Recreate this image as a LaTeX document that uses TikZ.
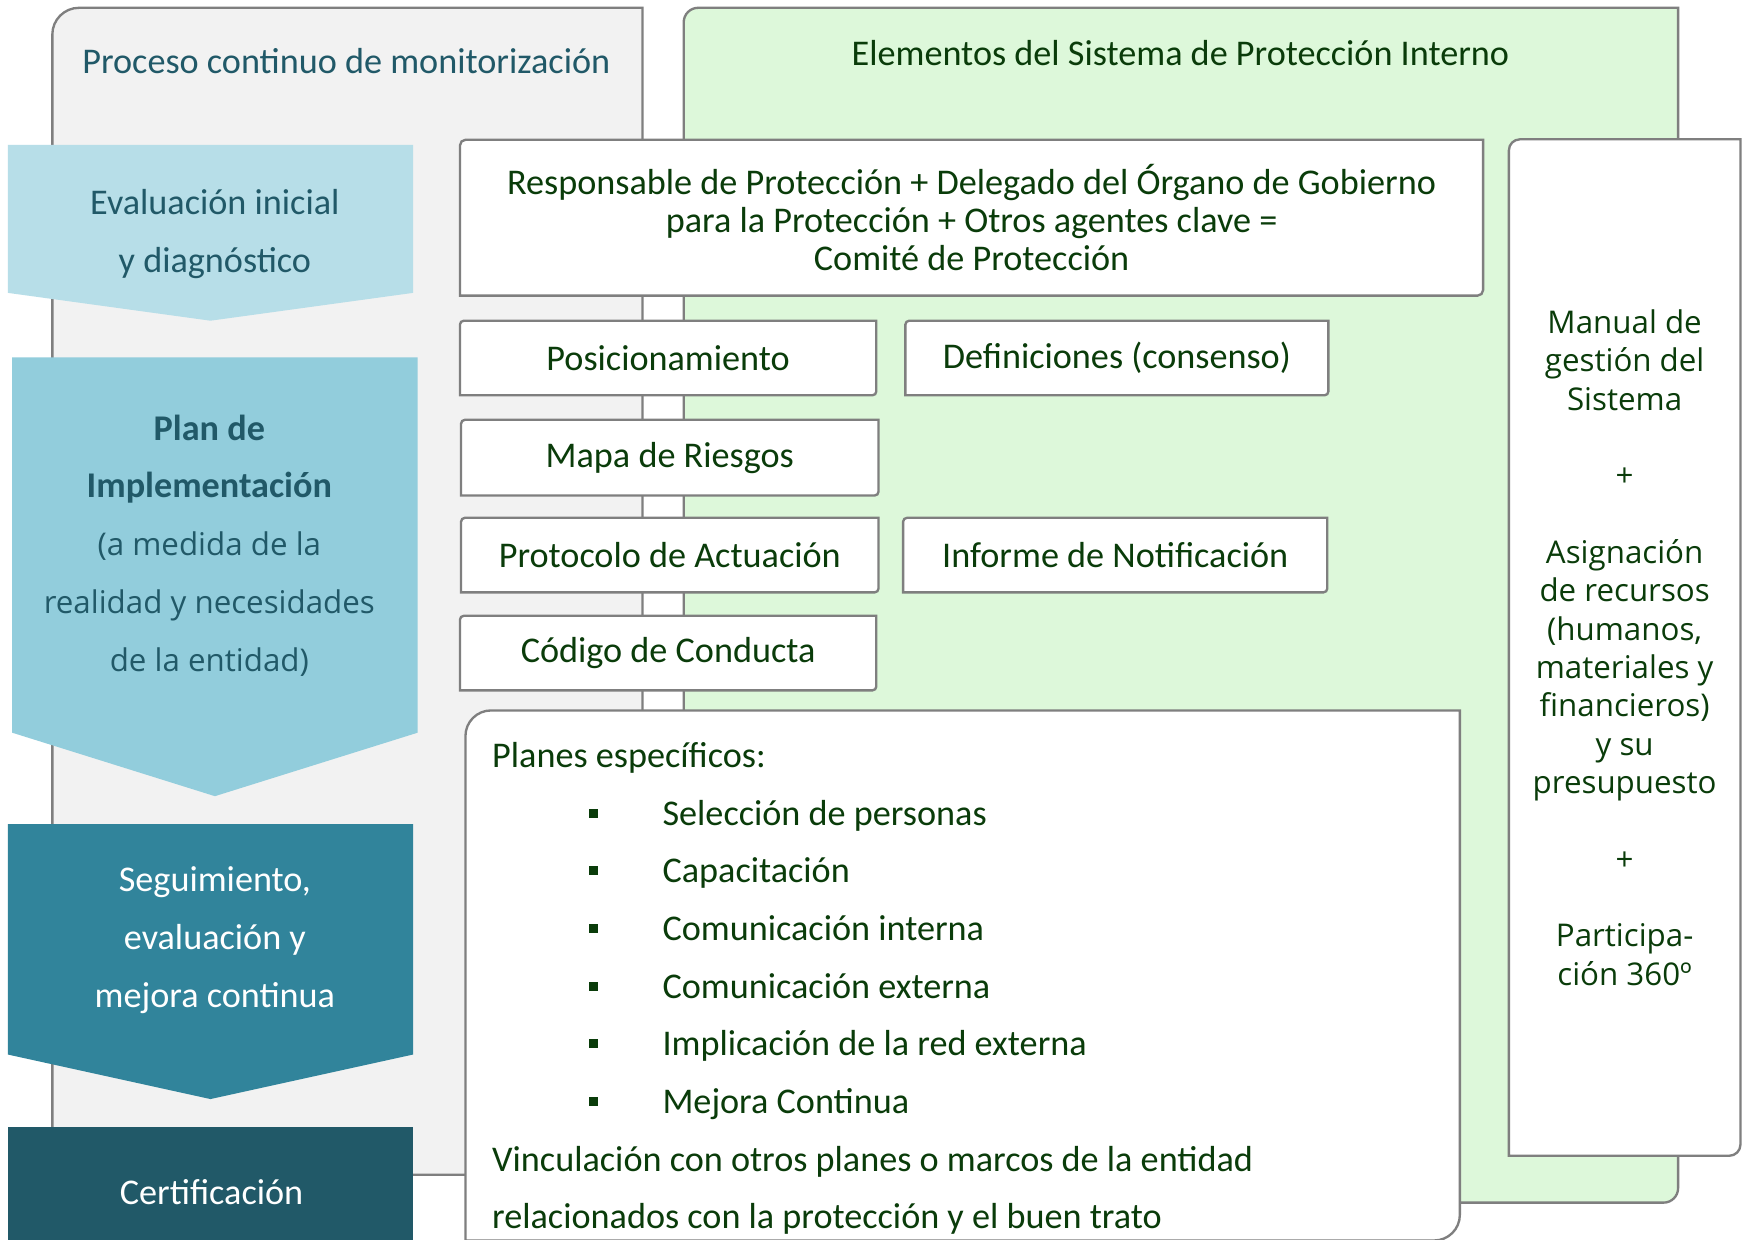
\documentclass[tikz,border=0pt]{standalone}
\usepackage{fontspec}
\setmainfont{Carlito}
\newfontfamily\widefont{Open Sans}
\usetikzlibrary{calc,fit}
\definecolor{tealdark}{HTML}{215968}
\definecolor{tealmid}{HTML}{31849B}
\definecolor{tealpale}{HTML}{92CDDC}
\definecolor{tealfaint}{HTML}{B7DEE8}
\definecolor{leafdark}{HTML}{0A3C0A}
\definecolor{leafpale}{HTML}{DDF8DA}
\definecolor{panelgray}{HTML}{F2F2F2}
\definecolor{edgegray}{HTML}{7F7F7F}
\pgfdeclarelayer{panels}
\pgfdeclarelayer{boxes}
\pgfsetlayers{panels,boxes,main}
\newcommand\cornerbox[3]{\filldraw[fill=#3,draw=edgegray,line width=1.2pt] ($(#1.north west)+(0,-#2)$) arc[start angle=180,end angle=90,radius=#2] -- (#1.north east) -- ($(#1.south east)+(0,#2)$) arc[start angle=0,end angle=-90,radius=#2] -- (#1.south west) -- cycle;}
\newcommand\stepchevron[6]{\fill[#6] (#1,#3) -- (#2,#3) -- (#2,#4) -- ({(#1+#2)/2},#5) -- (#1,#4) -- cycle;}
\newcommand\widetext{\widefont\fontsize{16}{29.6}\selectfont}
\tikzset{
  bare/.style={inner sep=0pt, outer sep=0pt},
  boxtext/.style={bare, align=center, text=leafdark, minimum height=1.34cm, minimum width=#1, font=\fontsize{18.5}{19.4}\selectfont},
  boxtext/.default=7.5cm,
  steptext/.style={bare, align=center, text=tealdark, font=\fontsize{18.5}{29.6}\selectfont},
  listtext/.style={bare, anchor=mid west, text=leafdark, font=\fontsize{18.5}{22}\selectfont},
  bullet/.style={bare, fill=leafdark, minimum size=0.16cm},
}
\begin{document}
\begin{tikzpicture}[x=0.02cm, y=-0.02cm]
            \useasboundingbox (0,0) rectangle (1568,1113);
            \node[bare, fit={(47,7) (577,1055)}] (grey) {};
            \node[bare, fit={(614,7) (1507,1080)}] (green) {};
            \node[bare, text=tealdark, font=\fontsize{18.5}{22}\selectfont] (monitor) at (311,55) {Proceso continuo de monitorización};
            \node[bare, text=leafdark, font=\fontsize{18.5}{22}\selectfont] (sistema) at (1060,48) {Elementos del Sistema de Protección Interno};
            \node[steptext] (evaluacion) at (193,210) {Evaluación inicial\\y diagnóstico};
            \node[steptext] (plan) at (188,490) {{\bfseries Plan de}\\{\bfseries Implementación}\\{\widetext (a medida de la}\\{\widetext realidad y necesidades}\\{\widetext de la entidad)}};
            \node[steptext, text=white] (seguimiento) at (193,844) {Seguimiento,\\evaluación y\\mejora continua};
            \node[steptext, text=white] (certificacion) at (190,1071) {Certificación};
            \node[boxtext=18.38cm, minimum height=2.8cm] (comite) at (872.5,195.5) {Responsable de Protección + Delegado del Órgano de Gobierno\\para la Protección + Otros agentes clave =\\Comité de Protección};
            \node[boxtext=7.48cm] (posicion) at (600,321.5) {Posicionamiento};
            \node[boxtext=7.6cm] (definicion) at (1003,321.5) {Definiciones (consenso)};
            \node[boxtext, minimum height=1.36cm] (riesgos) at (601.5,411) {Mapa de Riesgos};
            \node[boxtext] (protocolo) at (601.5,498.5) {Protocolo de Actuación};
            \node[boxtext=7.62cm] (informe) at (1001.5,498.5) {Informe de Notificación};
            \node[boxtext=7.48cm] (codigo) at (600,586.5) {Código de Conducta};
            \node[boxtext=4.16cm, minimum height=18.26cm, font=\widefont\fontsize{16}{19.6}\selectfont] (manual) at (1459,581.5) {Manual de\\gestión del\\Sistema\\[19.6pt]+\\[19.6pt]Asignación\\de recursos\\(humanos,\\materiales y\\financieros)\\y su\\presupuesto\\[19.6pt]+\\[19.6pt]Participa-\\ción 360º};
            \node[bare, fit={(418,638) (1311,1114)}] (planes) {};
            \node[listtext] (especificos) at (442,685) {Planes específicos:};
            \foreach \t [count=\i] in {Selección de personas, Capacitación, Comunicación interna, Comunicación externa, Implicación de la red externa, Mejora Continua}{
              \node[bullet] (dot\i) at (533,{678.5+51.8*\i}) {};
              \node[listtext] (plan\i) at (595,{685+51.8*\i}) {\t};
            }
            \node[listtext] (vinculo) at (442,1047.6) {Vinculación con otros planes o marcos de la entidad};
            \node[listtext] (trato) at (442,1099.4) {relacionados con la protección y el buen trato};
            \begin{pgfonlayer}{panels}
              \fill[white] (0,0) rectangle (1568,1113);
              \cornerbox{grey}{0.48cm}{panelgray}
              \cornerbox{green}{0.26cm}{leafpale}
            \end{pgfonlayer}
            \begin{pgfonlayer}{boxes}
              \stepchevron{7}{371}{130}{263}{288}{tealfaint}
              \stepchevron{11}{375}{321}{658}{715}{tealpale}
              \stepchevron{7}{371}{740}{947}{987}{tealmid}
              \fill[tealdark] (7,1012) rectangle (371,1120);
              \foreach \n/\r in {comite/0.1cm, posicion/0.07cm, definicion/0.07cm, riesgos/0.07cm, protocolo/0.07cm, informe/0.07cm, codigo/0.07cm, manual/0.2cm, planes/0.46cm}{
                \cornerbox{\n}{\r}{white}
              }
            \end{pgfonlayer}
        \end{tikzpicture}
\end{document}
